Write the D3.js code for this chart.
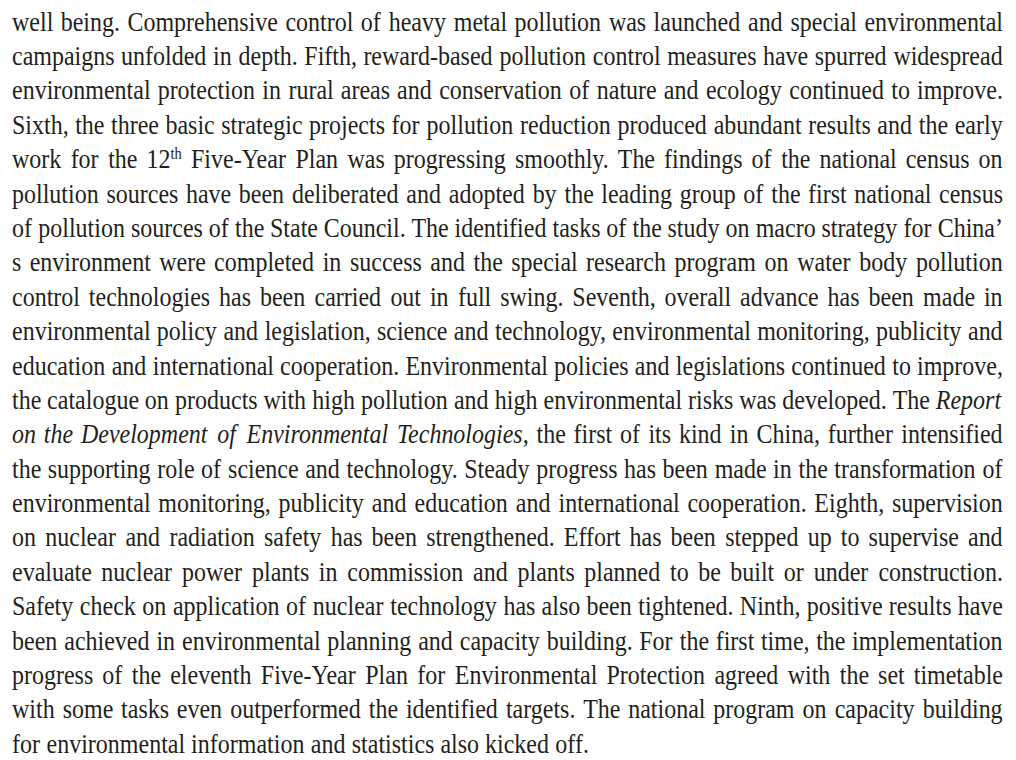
<!DOCTYPE html>
<html>
<head>
<meta charset="utf-8">
<script src="https://cdn.jsdelivr.net/npm/d3@7"></script>
<style>
  html, body { margin: 0; padding: 0; background: #ffffff; }
  svg { display: block; }
</style>
</head>
<body>
<svg id="page" width="1016" height="760"></svg>
<script>
// Text lines (markup: *italic*, ^superscript^); last line is not justified
const lines = [
  "well being. Comprehensive control of heavy metal pollution was launched and special environmental",
  "campaigns unfolded in depth. Fifth, reward-based pollution control measures have spurred widespread",
  "environmental protection in rural areas and conservation of nature and ecology continued to improve.",
  "Sixth, the three basic strategic projects for pollution reduction produced abundant results and the early",
  "work for the 12^th^ Five-Year Plan was progressing smoothly. The findings of the national census on",
  "pollution sources have been deliberated and adopted by the leading group of the first national census",
  "of pollution sources of the State Council. The identified tasks of the study on macro strategy for China\u2019",
  "s environment were completed in success and the special research program on water body pollution",
  "control technologies has been carried out in full swing. Seventh, overall advance has been made in",
  "environmental policy and legislation, science and technology, environmental monitoring, publicity and",
  "education and international cooperation. Environmental policies and legislations continued to improve,",
  "the catalogue on products with high pollution and high environmental risks was developed. The *Report*",
  "*on the Development of Environmental Technologies*, the first of its kind in China, further intensified",
  "the supporting role of science and technology. Steady progress has been made in the transformation of",
  "environmental monitoring, publicity and education and international cooperation. Eighth, supervision",
  "on nuclear and radiation safety has been strengthened. Effort has been stepped up to supervise and",
  "evaluate nuclear power plants in commission and plants planned to be built or under construction.",
  "Safety check on application of nuclear technology has also been tightened. Ninth, positive results have",
  "been achieved in environmental planning and capacity building. For the first time, the implementation",
  "progress of the eleventh Five-Year Plan for Environmental Protection agreed with the set timetable",
  "with some tasks even outperformed the identified targets. The national program on capacity building",
  "for environmental information and statistics also kicked off."
];
const lineIndex = d3.range(lines.length);

const W = 1016, H = 760;
const left = 12, right = 1003;
const fontSize = 24;
const color = "#231f20";

const svg = d3.select("#page");
svg.append("rect").attr("width", W).attr("height", H).attr("fill", "#ffffff");

const y = d3.scaleLinear().domain([0, lines.length - 1]).range([30.7, 752.7]);

// parse a line into words, each word a list of runs {t, it, sup}
function parseLine(str) {
  const runs = [];
  let it = false, sup = false, buf = "";
  const flush = () => { if (buf) runs.push({t: buf, it, sup}); buf = ""; };
  for (const ch of str) {
    if (ch === "*") { flush(); it = !it; }
    else if (ch === "^") { flush(); sup = !sup; }
    else buf += ch;
  }
  flush();
  const words = [[]];
  runs.forEach(r => {
    const parts = r.t.split(" ");
    parts.forEach((p, i) => {
      if (i > 0) words.push([]);
      if (p) words[words.length - 1].push({t: p, it: r.it, sup: r.sup});
    });
  });
  return words.filter(w => w.length);
}

const g = svg.append("g")
  .attr("font-family", "'Liberation Serif', 'Times New Roman', serif")
  .attr("font-size", fontSize)
  .attr("fill", color);

const lineG = g.selectAll("g.line").data(lineIndex).join("g")
  .attr("class", "line")
  .attr("transform", i => `translate(0,${y(i)}) scale(1,1.1)`);

lineG.each(function(i) {
  const words = parseLine(lines[i]);
  const sel = d3.select(this);
  const texts = sel.selectAll("text").data(words).join("text")
    .attr("y", 0);
  texts.each(function(word) {
    const t = d3.select(this);
    word.forEach(r => {
      const ts = t.append("tspan").text(r.t);
      if (r.it) ts.attr("font-style", "italic");
      if (r.sup) ts.attr("font-size", fontSize * 0.6).attr("dy", -8);
    });
  });
  const widths = [];
  texts.each(function() { widths.push(this.getBBox().width); });
  const total = d3.sum(widths);
  const isLast = i === lines.length - 1;
  const gap = isLast ? fontSize * 0.25 : (right - left - total) / (words.length - 1);
  let x = left;
  texts.each(function(d, k) {
    d3.select(this).attr("x", x);
    x += widths[k] + gap;
  });
});
</script>
</body>
</html>
